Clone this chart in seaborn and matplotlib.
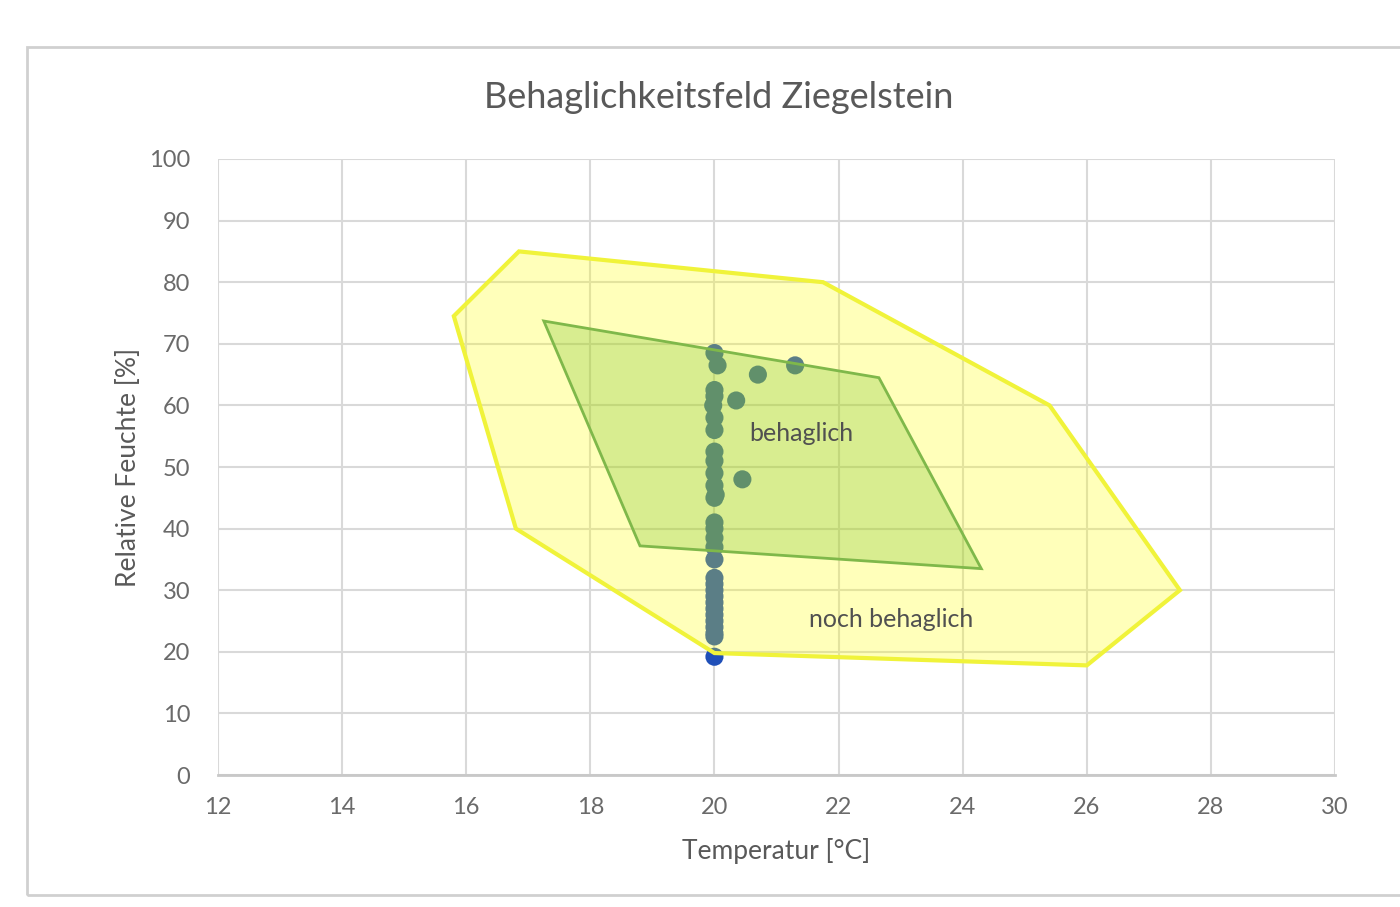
#Behaglichkeitsfeld chart: measured room climate of the brick house against the comfort zones
import numpy as np
import pandas as pd
import matplotlib.pyplot as plt
import seaborn as sns
from matplotlib.patches import Polygon, Rectangle

#measured points (temperature in C, relative humidity in %)
temp_vals = [20.0, 20.05, 20.0, 20.0, 19.98, 20.0, 20.0, 20.0, 20.0, 20.0, 20.0, 20.02, 20.0,
             20.0, 20.0, 20.0, 20.0, 20.0, 20.0, 20.0, 20.0, 20.0, 20.0, 20.0, 20.0, 20.0,
             20.0, 20.0, 20.0, 20.0, 20.7, 21.3, 20.35, 20.45]
hum_vals  = [68.5, 66.5, 62.5, 61.5, 60.0, 58.0, 56.0, 52.5, 51.0, 49.0, 47.0, 45.5, 45.0,
             41.0, 40.0, 38.5, 37.0, 35.0, 32.0, 31.0, 30.0, 29.0, 28.0, 27.0, 26.0, 25.0,
             24.0, 23.0, 22.5, 19.2, 65.0, 66.5, 60.8, 48.0]

#outer zone "noch behaglich"
outer_t = [15.8, 16.85, 21.75, 25.4, 27.5, 26.0, 20.0, 16.8]
outer_h = [74.5, 85.0, 80.0, 60.0, 30.0, 17.8, 19.8, 40.0]

#inner zone "behaglich"
inner_t = [17.25, 22.65, 24.3, 18.8]
inner_h = [73.7, 64.5, 33.5, 37.2]

x_ticks = np.arange(12, 31, 2)
y_ticks = np.arange(0, 101, 10)

df = pd.DataFrame({"Temperatur": temp_vals, "Feuchte": hum_vals})

sns.set_theme(style="white")
plt.rcParams["font.family"] = ["Lato", "DejaVu Sans"]

fig = plt.figure(figsize=(14, 9.07), dpi=100)
ax = fig.add_axes([0.1557, 0.1455, 0.7979, 0.6792])

#chart frame like the excel chart area
fig.patches.append(Rectangle((0.019, 0.013), 1.1, 0.935, transform=fig.transFigure,
                             fill=False, edgecolor="#d0d0d0", linewidth=2))

#points go under the zones, the zones tint them like in the original
sns.scatterplot(data=df, x="Temperatur", y="Feuchte", ax=ax, color="#1f4fb8",
                s=170, edgecolor="none", zorder=2, legend=False)

ax.add_patch(Polygon(np.column_stack([outer_t, outer_h]), closed=True,
                     facecolor=(1, 1, 0, 0.27), edgecolor="#f0f33a", linewidth=3, zorder=3))
ax.add_patch(Polygon(np.column_stack([inner_t, inner_h]), closed=True,
                     facecolor=(0.45, 0.75, 0.15, 0.28), edgecolor="#7fb84a", linewidth=2, zorder=4))

ax.text(21.4, 55.4, "behaglich", ha="center", va="center", fontsize=18, color="#505050", zorder=5)
ax.text(22.85, 25.2, "noch behaglich", ha="center", va="center", fontsize=18, color="#505050", zorder=5)

ax.set_xlim(12, 30)
ax.set_ylim(0, 100)
ax.set_xticks(x_ticks)
ax.set_yticks(y_ticks)
ax.grid(True, color="#d9d9d9", linewidth=1.5, zorder=0)
ax.set_axisbelow(True)
for side in ["top", "right", "left"]:
    ax.spines[side].set_visible(False)
ax.spines["bottom"].set_color("#c8c8c8")
ax.spines["bottom"].set_linewidth(2)
ax.tick_params(axis="both", length=0, labelsize=17, labelcolor="#6a6a6a")
ax.tick_params(axis="x", pad=16)
ax.tick_params(axis="y", pad=20)

ax.set_xlabel("Temperatur [°C]", fontsize=19, color="#595959", labelpad=14)
ax.set_ylabel("Relative Feuchte [%]", fontsize=19, color="#595959", labelpad=6)
fig.text(0.513, 0.893, "Behaglichkeitsfeld Ziegelstein", ha="center", va="center",
         fontsize=26, color="#595959")

fig.savefig("out.png", dpi=100)
